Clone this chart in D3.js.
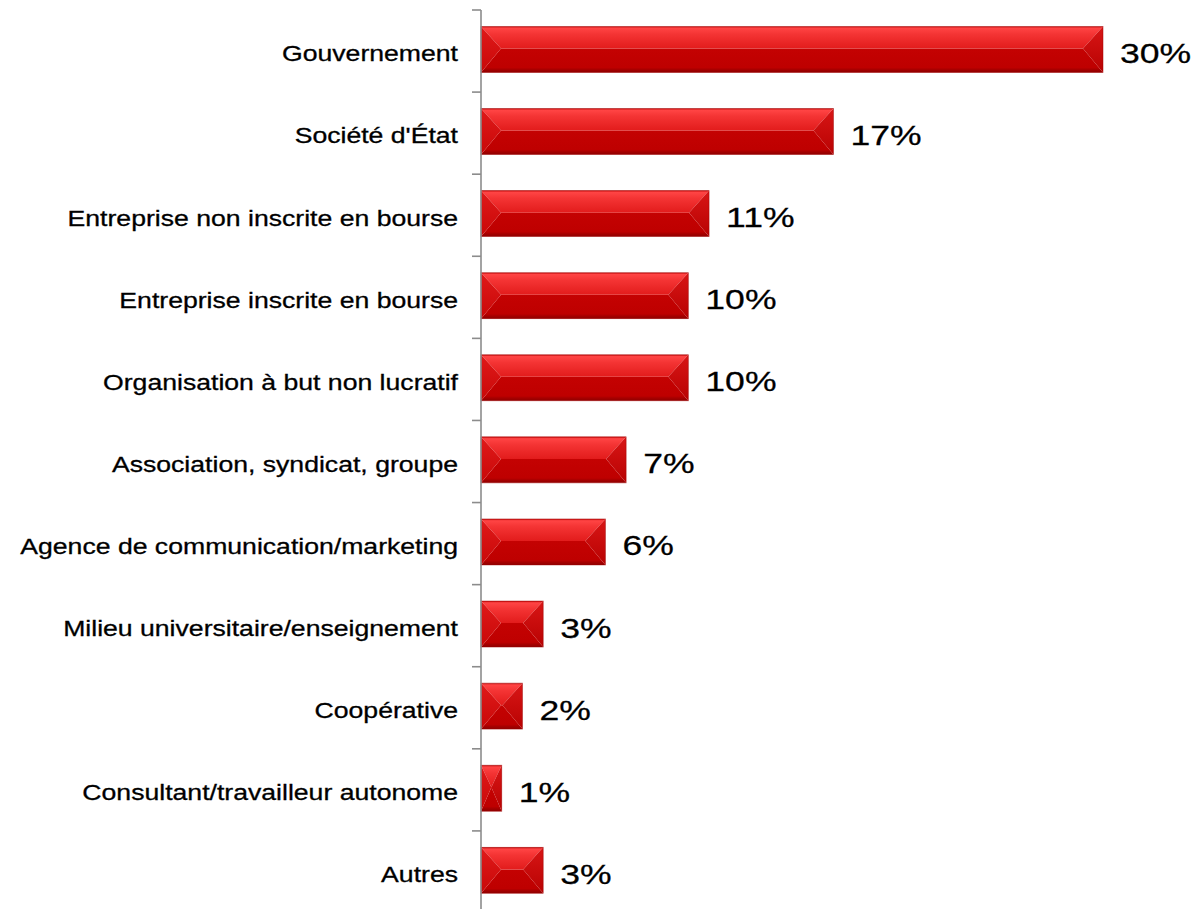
<!DOCTYPE html>
<html>
<head>
<meta charset="utf-8">
<script src="https://cdn.jsdelivr.net/npm/d3@7"></script>
<style>
  html, body { margin: 0; padding: 0; background: #ffffff; }
  svg { display: block; }
  .cat { font-family: "Liberation Sans", Arial, sans-serif; font-size: 22px; fill: #000; stroke: #000; stroke-width: 0.3px; }
  .val { font-family: "Liberation Sans", Arial, sans-serif; font-size: 28px; fill: #000; stroke: #000; stroke-width: 0.25px; }
</style>
</head>
<body>
<svg id="chart" width="1199" height="909"></svg>
<script>
// Répartition des répondants par type d'organisation (%)
const categories = [
  "Gouvernement",
  "Société d'État",
  "Entreprise non inscrite en bourse",
  "Entreprise inscrite en bourse",
  "Organisation à but non lucratif",
  "Association, syndicat, groupe",
  "Agence de communication/marketing",
  "Milieu universitaire/enseignement",
  "Coopérative",
  "Consultant/travailleur autonome",
  "Autres"
];
const values = [30, 17, 11, 10, 10, 7, 6, 3, 2, 1, 3];
const valueLabels = ["30%", "17%", "11%", "10%", "10%", "7%", "6%", "3%", "2%", "1%", "3%"];

const data = categories.map((c, i) => ({ cat: c, value: values[i], label: valueLabels[i] }));

const svg = d3.select("#chart");

const x = d3.scaleLinear().domain([0, 30]).range([481, 1103]);
const y = d3.scaleBand().domain(categories).range([10, 913]).paddingInner(0).paddingOuter(0);
const bw = y.bandwidth();
const barTop = d => y(d.cat) + bw * 0.2;
const barH = bw * 0.56;

// Gradients for the bevelled bar faces
const defs = svg.append("defs");
const gTop = defs.append("linearGradient").attr("id", "gTop").attr("x1", 0).attr("y1", 0).attr("x2", 0).attr("y2", 1);
gTop.append("stop").attr("offset", "0%").attr("stop-color", "#c40e0e");
gTop.append("stop").attr("offset", "8%").attr("stop-color", "#ff4444");
gTop.append("stop").attr("offset", "35%").attr("stop-color", "#f43434");
gTop.append("stop").attr("offset", "100%").attr("stop-color", "#e21c1c");
const gBot = defs.append("linearGradient").attr("id", "gBot").attr("x1", 0).attr("y1", 0).attr("x2", 0).attr("y2", 1);
gBot.append("stop").attr("offset", "0%").attr("stop-color", "#c40202");
gBot.append("stop").attr("offset", "80%").attr("stop-color", "#be0000");
gBot.append("stop").attr("offset", "88%").attr("stop-color", "#a80000");
gBot.append("stop").attr("offset", "100%").attr("stop-color", "#8e0000");
const gLeft = defs.append("linearGradient").attr("id", "gLeft").attr("x1", 0).attr("y1", 0).attr("x2", 0).attr("y2", 1);
gLeft.append("stop").attr("offset", "0%").attr("stop-color", "#e01a1a");
gLeft.append("stop").attr("offset", "100%").attr("stop-color", "#c80808");
const gRight = defs.append("linearGradient").attr("id", "gRight").attr("x1", 0).attr("y1", 0).attr("x2", 0).attr("y2", 1);
gRight.append("stop").attr("offset", "0%").attr("stop-color", "#d81616");
gRight.append("stop").attr("offset", "100%").attr("stop-color", "#b80202");

const bars = svg.append("g").selectAll("g.bar").data(data).join("g").attr("class", "bar");

function faces(d) {
  const x0 = x(0), x1 = x(d.value);
  const y0 = barTop(d), y1 = y0 + barH;
  const w = x1 - x0;
  const b = Math.min(20, w / 2);
  const ym = y0 + barH * 0.48;
  return {
    top: [[x0, y0], [x1, y0], [x1 - b, ym], [x0 + b, ym]],
    bottom: [[x0 + b, ym], [x1 - b, ym], [x1, y1], [x0, y1]],
    left: [[x0, y0], [x0 + b, ym], [x0, y1]],
    right: [[x1, y0], [x1, y1], [x1 - b, ym]]
  };
}
const poly = pts => "M" + pts.map(p => p.join(",")).join("L") + "Z";

bars.append("path").attr("d", d => poly(faces(d).bottom)).attr("fill", "url(#gBot)");
bars.append("path").attr("d", d => poly(faces(d).top)).attr("fill", "url(#gTop)");
bars.append("path").attr("d", d => poly(faces(d).left)).attr("fill", "url(#gLeft)");
bars.append("path").attr("d", d => poly(faces(d).right)).attr("fill", "url(#gRight)");
bars.append("rect")
  .attr("x", x(0)).attr("y", d => barTop(d))
  .attr("width", d => x(d.value) - x(0)).attr("height", barH)
  .attr("fill", "none").attr("stroke", "#a00000").attr("stroke-width", 0.8).attr("stroke-opacity", 0.6);

// Category axis: vertical line with ticks at band boundaries
const axis = svg.append("g").attr("class", "axis");
axis.append("line")
  .attr("x1", x(0)).attr("x2", x(0))
  .attr("y1", y.range()[0]).attr("y2", y.range()[1])
  .attr("stroke", "#8c8c8c").attr("stroke-width", 1.6);
axis.selectAll("line.tick").data(categories).join("line").attr("class", "tick")
  .attr("x1", x(0) - 9).attr("x2", x(0))
  .attr("y1", d => y(d)).attr("y2", d => y(d))
  .attr("stroke", "#8c8c8c").attr("stroke-width", 1.6);

// Category labels (wide face: horizontally stretched glyphs)
svg.append("g").selectAll("text").data(data).join("text")
  .attr("class", "cat")
  .attr("transform", d => `translate(${x(0) - 23},${barTop(d) + barH / 2 + 12}) scale(1.21,1)`)
  .attr("text-anchor", "end")
  .text(d => d.cat);

// Value labels
svg.append("g").selectAll("text").data(data).join("text")
  .attr("class", "val")
  .attr("transform", d => `translate(${x(d.value) + 17},${barTop(d) + barH / 2 + 13.5}) scale(1.27,1)`)
  .text(d => d.label);
</script>
</body>
</html>
